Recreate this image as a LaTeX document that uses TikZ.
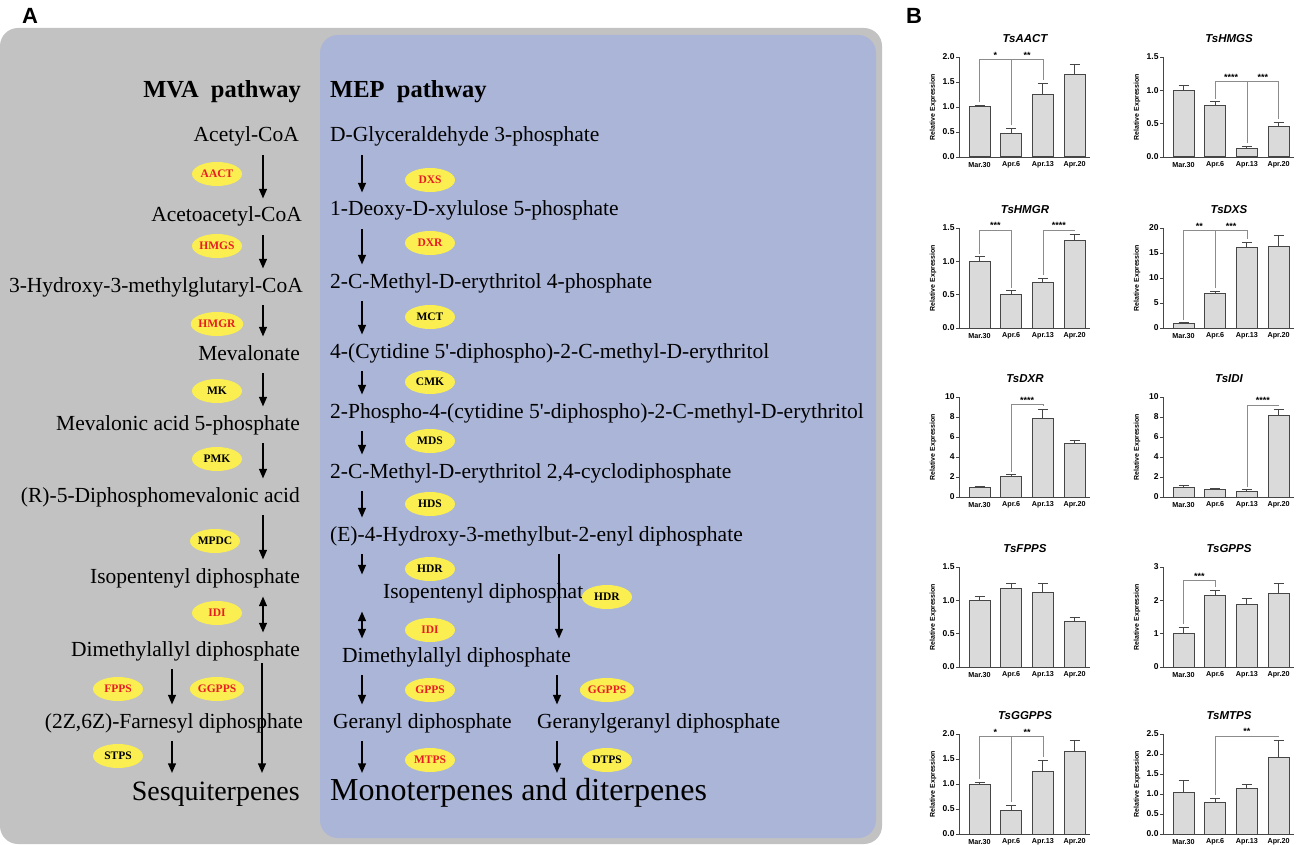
\documentclass[tikz,border=0pt]{standalone}
\usepackage{fontspec}
\setmainfont{Liberation Serif}
\newfontfamily\arialfont{Liberation Sans}
\usetikzlibrary{positioning,calc,arrows.meta,shapes.geometric}

\definecolor{panelgray}{RGB}{194,194,194}
\definecolor{panelblue}{RGB}{170,181,215}
\definecolor{enzyellow}{RGB}{250,238,80}
\definecolor{enzred}{RGB}{232,28,36}
\definecolor{barfill}{RGB}{218,218,218}
\definecolor{baredge}{RGB}{70,70,70}
\definecolor{sigcol}{RGB}{140,140,140}

\tikzset{
  compound/.style={inner sep=0pt, text height=15pt, text depth=5pt,
    font=\fontsize{21.5}{24}\selectfont},
  product/.style={inner sep=0pt, text height=19pt, text depth=6pt,
    font=\fontsize{28}{30}\selectfont},
  pathname/.style={inner sep=0pt, font=\bfseries\fontsize{24.5}{26}\selectfont},
  enz/.style={ellipse, fill=enzyellow, minimum width=50pt, minimum height=24pt,
    inner sep=0pt, font=\bfseries\fontsize{11.5}{12}\selectfont},
  enzr/.style={enz, text=enzred},
  flow/.style={line width=2.6pt, -{Triangle[length=10pt,width=7.5pt]},
    shorten <=8pt, shorten >=8pt},
  dflow/.style={flow, {Triangle[length=10pt,width=7.5pt]}-{Triangle[length=10pt,width=7.5pt]}},
  axisline/.style={draw=baredge, line width=0.9pt},
  barbox/.style={draw=baredge, fill=barfill, line width=1pt},
  errline/.style={draw=baredge, line width=0.9pt},
  sigline/.style={draw=sigcol, line width=0.8pt},
  ticklab/.style={inner sep=1pt, font=\arialfont\bfseries\fontsize{8.5}{9}\selectfont},
  datelab/.style={inner sep=0pt, font=\arialfont\bfseries\fontsize{7.2}{8}\selectfont},
  charttitle/.style={font=\arialfont\bfseries\itshape\fontsize{11.5}{13}\selectfont},
  ylab/.style={inner sep=0pt, font=\arialfont\bfseries\fontsize{7}{8}\selectfont},
  stars/.style={inner sep=1pt, anchor=south, font=\arialfont\bfseries\fontsize{9}{9}\selectfont},
  panel/.style={font=\arialfont\bfseries\fontsize{22}{24}\selectfont}
}

\newcommand\barchart[7]{%
  \begin{scope}[shift={(#1,#2)}]
    \pgfmathsetmacro\sc{100/#4}
    \draw[axisline] (0,-100) -- (0,0) -- (131,0);
    \foreach \t/\l in {#5}
      \draw[axisline] (0,-\t*\sc) -- (-3,-\t*\sc) node[ticklab,left] {\l};
    \foreach \v/\e [count=\i from 0] in {#6} {
      \pgfmathsetmacro\cx{20.5+31.7*\i}
      \draw[errline] (\cx,-\v*\sc) -- (\cx,-\e*\sc) (\cx-5,-\e*\sc) -- (\cx+5,-\e*\sc);
      \draw[barbox] (\cx-10.5,0) rectangle (\cx+10.5,-\v*\sc);
    }
    \foreach \l [count=\i from 0] in {Mar.30,Apr.6,Apr.13,Apr.20}
      \node[datelab] at (20.5+31.7*\i,8) {\l};
    \node[charttitle] at (66,-118) {#3};
    \node[ylab,rotate=90] at (-26,-50) {Relative Expression};
    \def\brlist{#7}%
    \ifx\brlist\empty\else
      \foreach \a/\b/\h/\ea/\eb/\s in {#7} {
        \pgfmathsetmacro\xa{20.5+31.7*\a}
        \pgfmathsetmacro\xb{20.5+31.7*\b}
        \draw[sigline] (\xa,-\ea*\sc-3) -- (\xa,-\h*\sc) -- (\xb,-\h*\sc) -- (\xb,-\eb*\sc-3);
        \node[stars] at ({(\xa+\xb)/2},-\h*\sc) {\s};
      }
    \fi
  \end{scope}}

\begin{document}
\begin{tikzpicture}[x=1pt,y=-1pt]
\useasboundingbox (0,0) rectangle (1299,845);

\fill[panelgray, rounded corners=18pt] (0,28) rectangle (882,844);
\fill[panelblue, rounded corners=18pt] (320,35) rectangle (876,838);
\node[panel] (la) at (30,16) {A};
\node[panel] (lb) at (914,16) {B};

\coordinate (mx) at (263,0);
\coordinate (mlong) at (262,0);
\coordinate (mleft) at (172,0);
\coordinate (ex) at (362,0);
\coordinate (elong) at (559,0);
\coordinate (eright) at (557,0);

\node[pathname, anchor=east] (mva) at (301,92) {MVA\ \ pathway};
\node[compound, anchor=east] (m1) at (299,137) {Acetyl-CoA};
\node[compound, anchor=east] (m2) at (302,217) {Acetoacetyl-CoA};
\node[compound, anchor=east] (m3) at (303,287) {3-Hydroxy-3-methylglutaryl-CoA};
\node[compound, anchor=east] (m4) at (300,355) {Mevalonate};
\node[compound, anchor=east] (m5) at (300,425) {Mevalonic acid 5-phosphate};
\node[compound, anchor=east] (m6) at (300,497) {(R)-5-Diphosphomevalonic acid};
\node[compound, anchor=east] (m7) at (300,578) {Isopentenyl diphosphate};
\node[compound, anchor=east] (m8) at (300,651) {Dimethylallyl diphosphate};
\node[compound, anchor=east] (m9) at (303,723) {(2Z,6Z)-Farnesyl diphosphate};
\node[product, anchor=east] (m10) at (300,794) {Sesquiterpenes};

\node[pathname, anchor=west] (mep) at (330,92) {MEP\ \ pathway};
\node[compound, anchor=west] (e1) at (330,137) {D-Glyceraldehyde 3-phosphate};
\node[compound, anchor=west] (e2) at (330,211) {1-Deoxy-D-xylulose 5-phosphate};
\node[compound, anchor=west] (e3) at (330,283) {2-C-Methyl-D-erythritol 4-phosphate};
\node[compound, anchor=west] (e4) at (330,353) {4-(Cytidine 5\textquotesingle-diphospho)-2-C-methyl-D-erythritol};
\node[compound, anchor=west] (e5) at (330,413) {2-Phospho-4-(cytidine 5\textquotesingle-diphospho)-2-C-methyl-D-erythritol};
\node[compound, anchor=west] (e6) at (330,473) {2-C-Methyl-D-erythritol 2,4-cyclodiphosphate};
\node[compound, anchor=west] (e7) at (330,536) {(E)-4-Hydroxy-3-methylbut-2-enyl diphosphate};
\node[compound, anchor=west] (e8) at (383,593) {Isopentenyl diphosphat};
\node[compound, anchor=west] (e9) at (342,657) {Dimethylallyl diphosphate};
\node[compound, anchor=west] (e10) at (333,723) {Geranyl diphosphate};
\node[compound, anchor=west] (e11) at (537,723) {Geranylgeranyl diphosphate};
\node[product, anchor=west, font=\fontsize{32}{34}\selectfont] (e12) at (330,794) {Monoterpenes and diterpenes};

\draw[flow] (m1.south -| mx) -- (m2.north -| mx);
\draw[flow] (m2.south -| mx) -- (m3.north -| mx);
\draw[flow] (m3.south -| mx) -- (m4.north -| mx);
\draw[flow] (m4.south -| mx) -- (m5.north -| mx);
\draw[flow] (m5.south -| mx) -- (m6.north -| mx);
\draw[flow] (m6.south -| mx) -- (m7.north -| mx);
\draw[dflow] (m7.south -| mx) -- (m8.north -| mx);
\draw[flow] (m8.south -| mleft) -- (m9.north -| mleft);
\draw[flow] (m9.south -| mleft) -- (m10.north -| mleft);
\draw[flow, shorten <=2pt] (m8.south -| mlong) -- (m10.north -| mlong);

\draw[flow] (e1.south -| ex) -- (e2.north -| ex);
\draw[flow] (e2.south -| ex) -- (e3.north -| ex);
\draw[flow] (e3.south -| ex) -- (e4.north -| ex);
\draw[flow] (e4.south -| ex) -- (e5.north -| ex);
\draw[flow] (e5.south -| ex) -- (e6.north -| ex);
\draw[flow] (e6.south -| ex) -- (e7.north -| ex);
\draw[flow] (e7.south -| ex) -- (e8.north -| ex);
\draw[dflow] (e8.south -| ex) -- (e9.north -| ex);
\draw[flow] (e9.south -| ex) -- (e10.north -| ex);
\draw[flow] (e10.south -| ex) -- (e12.north -| ex);
\draw[flow] (e7.south -| elong) -- (e9.north -| elong);
\draw[flow] (e9.south -| eright) -- (e11.north -| eright);
\draw[flow] (e11.south -| eright) -- (e12.north -| eright);

\node[enzr] (aact) at (217,174) {AACT};
\node[enzr] (hmgs) at (217,246) {HMGS};
\node[enzr] (hmgr) at (217,324) {HMGR};
\node[enz] (mk) at (217,391) {MK};
\node[enz] (pmk) at (217,459) {PMK};
\node[enz] (mpdc) at (215,541) {MPDC};
\node[enzr] (idim) at (217,613) {IDI};
\node[enzr] (fpps) at (118,689) {FPPS};
\node[enzr] (ggppsm) at (217,689) {GGPPS};
\node[enz] (stps) at (118,756) {STPS};

\node[enzr] (dxs) at (430,180) {DXS};
\node[enzr] (dxr) at (430,243) {DXR};
\node[enz] (mct) at (430,317) {MCT};
\node[enz] (cmk) at (430,382) {CMK};
\node[enz] (mds) at (430,441) {MDS};
\node[enz] (hds) at (430,504) {HDS};
\node[enz] (hdr) at (430,569) {HDR};
\node[enz] (hdrb) at (607,597) {HDR};
\node[enzr] (idie) at (430,630) {IDI};
\node[enzr] (gpps) at (430,690) {GPPS};
\node[enzr] (ggppse) at (607,690) {GGPPS};
\node[enzr] (mtps) at (430,760) {MTPS};
\node[enz] (dtps) at (607,760) {DTPS};

\barchart{959}{157}{TsAACT}{2}{0/0.0,0.5/0.5,1/1.0,1.5/1.5,2/2.0}
  {1.0/1.03,0.47/0.57,1.24/1.47,1.64/1.86}{0/1/1.95/1.03/0.57/*,1/2/1.95/0.57/1.47/**}
\barchart{1163}{157}{TsHMGS}{1.5}{0/0.0,0.5/0.5,1/1.0,1.5/1.5}
  {1.0/1.07,0.77/0.83,0.13/0.16,0.45/0.52}{1/2/1.13/0.83/0.16/****,2/3/1.13/0.16/0.52/***}
\barchart{959}{328}{TsHMGR}{1.5}{0/0.0,0.5/0.5,1/1.0,1.5/1.5}
  {1.0/1.07,0.5/0.56,0.68/0.75,1.31/1.41}{0/1/1.47/1.07/0.56/***,2/3/1.47/0.75/1.41/****}
\barchart{1163}{328}{TsDXS}{20}{0/0,5/5,10/10,15/15,20/20}
  {1.0/1.1,6.9/7.4,16.1/17.2,16.2/18.5}{0/1/19.5/1.1/7.4/**,1/2/19.5/7.4/17.2/***}
\barchart{959}{497}{TsDXR}{10}{0/0,2/2,4/4,6/6,8/8,10/10}
  {1.0/1.03,2.1/2.25,7.85/8.8,5.4/5.7}{1/2/9.25/2.25/8.8/****}
\barchart{1163}{497}{TsIDI}{10}{0/0,2/2,4/4,6/6,8/8,10/10}
  {1.0/1.15,0.75/0.85,0.6/0.75,8.15/8.8}{2/3/9.2/0.75/8.8/****}
\barchart{959}{667}{TsFPPS}{1.5}{0/0.0,0.5/0.5,1/1.0,1.5/1.5}
  {1.0/1.06,1.18/1.25,1.12/1.25,0.69/0.75}{}
\barchart{1163}{667}{TsGPPS}{3}{0/0,1/1,2/2,3/3}
  {1.0/1.2,2.15/2.3,1.88/2.07,2.2/2.5}{0/1/2.6/1.2/2.3/***}
\barchart{959}{834}{TsGGPPS}{2}{0/0.0,0.5/0.5,1/1.0,1.5/1.5,2/2.0}
  {1.0/1.04,0.48/0.58,1.25/1.48,1.65/1.87}{0/1/1.95/1.04/0.58/*,1/2/1.95/0.58/1.48/**}
\barchart{1163}{834}{TsMTPS}{2.5}{0/0.0,0.5/0.5,1/1.0,1.5/1.5,2/2.0,2.5/2.5}
  {1.03/1.33,0.8/0.9,1.13/1.25,1.92/2.35}{1/3/2.45/0.9/2.35/**}
\end{tikzpicture}
\end{document}
